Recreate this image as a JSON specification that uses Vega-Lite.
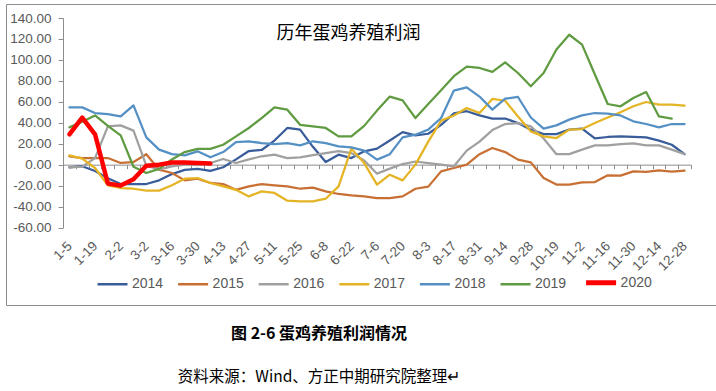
{
"$schema": "https://vega.github.io/schema/vega-lite/v6.json",
"background": "white",
"padding": {"left": 0, "top": 3, "right": 0, "bottom": 0},
"config": {"view": {"stroke": "#8c8c8c", "strokeWidth": 1}, "font": "Liberation Sans"},
"title": {"text": "图 2-6  蛋鸡养殖利润情况", "subtitle": "资料来源：Wind、方正中期研究院整理↵", "orient": "bottom", "anchor": "middle", "dx": -41, "offset": 20, "subtitlePadding": 28, "font": "Noto Sans CJK SC", "fontSize": 16, "fontWeight": "bold", "color": "#000000", "subtitleFont": "Noto Sans CJK SC", "subtitleFontSize": 15.5, "subtitleColor": "#000000", "subtitleFontWeight": "normal"},
"vconcat": [{
"width": 713, "height": 301,
"title": {"text": "历年蛋鸡养殖利润", "frame": "group", "anchor": "middle", "dx": -14, "offset": -39, "font": "Noto Sans CJK SC", "fontSize": 18, "fontWeight": "normal", "color": "#000000"},
"data": {"values": [
{"d":"1-5","s":"2014","v":-2.7},{"d":"1-12","s":"2014","v":-1.5},{"d":"1-19","s":"2014","v":-6},{"d":"1-26","s":"2014","v":-13},{"d":"2-2","s":"2014","v":-18.5},{"d":"2-16","s":"2014","v":-18.5},{"d":"3-2","s":"2014","v":-18.5},{"d":"3-9","s":"2014","v":-15},{"d":"3-16","s":"2014","v":-9},{"d":"3-23","s":"2014","v":-5},{"d":"3-30","s":"2014","v":-4},{"d":"4-6","s":"2014","v":-6},{"d":"4-13","s":"2014","v":-2.5},{"d":"4-20","s":"2014","v":5},{"d":"4-27","s":"2014","v":13},{"d":"5-4","s":"2014","v":14},{"d":"5-11","s":"2014","v":23},{"d":"5-18","s":"2014","v":35},{"d":"5-25","s":"2014","v":33.4},{"d":"6-1","s":"2014","v":17},{"d":"6-8","s":"2014","v":2.5},{"d":"6-15","s":"2014","v":9.5},{"d":"6-22","s":"2014","v":6.3},{"d":"6-29","s":"2014","v":12.7},{"d":"7-6","s":"2014","v":15.3},{"d":"7-13","s":"2014","v":23},{"d":"7-20","s":"2014","v":31},{"d":"7-27","s":"2014","v":28},{"d":"8-3","s":"2014","v":29.5},{"d":"8-10","s":"2014","v":38},{"d":"8-17","s":"2014","v":49},{"d":"8-24","s":"2014","v":51},{"d":"8-31","s":"2014","v":47},{"d":"9-7","s":"2014","v":44},{"d":"9-14","s":"2014","v":44},{"d":"9-21","s":"2014","v":39.7},{"d":"9-28","s":"2014","v":33.4},{"d":"10-12","s":"2014","v":29.2},{"d":"10-19","s":"2014","v":29.2},{"d":"10-26","s":"2014","v":33.4},{"d":"11-2","s":"2014","v":34.4},{"d":"11-9","s":"2014","v":25},{"d":"11-16","s":"2014","v":26.4},{"d":"11-23","s":"2014","v":27},{"d":"11-30","s":"2014","v":26.4},{"d":"12-7","s":"2014","v":26},{"d":"12-14","s":"2014","v":23},{"d":"12-21","s":"2014","v":19},{"d":"12-28","s":"2014","v":10},
{"d":"1-5","s":"2015","v":8},{"d":"1-12","s":"2015","v":6.3},{"d":"1-19","s":"2015","v":6.3},{"d":"1-26","s":"2015","v":6.3},{"d":"2-2","s":"2015","v":1.6},{"d":"2-16","s":"2015","v":2.5},{"d":"3-2","s":"2015","v":10},{"d":"3-9","s":"2015","v":-4.8},{"d":"3-16","s":"2015","v":-8},{"d":"3-23","s":"2015","v":-15},{"d":"3-30","s":"2015","v":-13.4},{"d":"4-6","s":"2015","v":-17.5},{"d":"4-13","s":"2015","v":-18.5},{"d":"4-20","s":"2015","v":-24},{"d":"4-27","s":"2015","v":-20.7},{"d":"5-4","s":"2015","v":-18.5},{"d":"5-11","s":"2015","v":-19.7},{"d":"5-18","s":"2015","v":-20.7},{"d":"5-25","s":"2015","v":-23},{"d":"6-1","s":"2015","v":-22},{"d":"6-8","s":"2015","v":-25.5},{"d":"6-15","s":"2015","v":-28},{"d":"6-22","s":"2015","v":-29.3},{"d":"6-29","s":"2015","v":-30.3},{"d":"7-6","s":"2015","v":-31.9},{"d":"7-13","s":"2015","v":-31.9},{"d":"7-20","s":"2015","v":-30.3},{"d":"7-27","s":"2015","v":-23},{"d":"8-3","s":"2015","v":-21},{"d":"8-10","s":"2015","v":-6.4},{"d":"8-17","s":"2015","v":-3.2},{"d":"8-24","s":"2015","v":0},{"d":"8-31","s":"2015","v":10},{"d":"9-7","s":"2015","v":15.9},{"d":"9-14","s":"2015","v":12},{"d":"9-21","s":"2015","v":4.8},{"d":"9-28","s":"2015","v":2.2},{"d":"10-12","s":"2015","v":-12.8},{"d":"10-19","s":"2015","v":-19},{"d":"10-26","s":"2015","v":-19},{"d":"11-2","s":"2015","v":-17},{"d":"11-9","s":"2015","v":-16.6},{"d":"11-16","s":"2015","v":-10.2},{"d":"11-23","s":"2015","v":-10.5},{"d":"11-30","s":"2015","v":-6.4},{"d":"12-7","s":"2015","v":-7},{"d":"12-14","s":"2015","v":-5.4},{"d":"12-21","s":"2015","v":-6.7},{"d":"12-28","s":"2015","v":-5.7},
{"d":"1-5","s":"2016","v":-2.6},{"d":"1-12","s":"2016","v":-2},{"d":"1-19","s":"2016","v":6.3},{"d":"1-26","s":"2016","v":36.6},{"d":"2-2","s":"2016","v":37.5},{"d":"2-16","s":"2016","v":32.5},{"d":"3-2","s":"2016","v":-1},{"d":"3-9","s":"2016","v":-4.5},{"d":"3-16","s":"2016","v":-1.6},{"d":"3-23","s":"2016","v":0},{"d":"3-30","s":"2016","v":0},{"d":"4-6","s":"2016","v":1.6},{"d":"4-13","s":"2016","v":5.4},{"d":"4-20","s":"2016","v":1.6},{"d":"4-27","s":"2016","v":5},{"d":"5-4","s":"2016","v":8},{"d":"5-11","s":"2016","v":9.5},{"d":"5-18","s":"2016","v":6.3},{"d":"5-25","s":"2016","v":7},{"d":"6-1","s":"2016","v":9},{"d":"6-8","s":"2016","v":11},{"d":"6-15","s":"2016","v":13},{"d":"6-22","s":"2016","v":11},{"d":"6-29","s":"2016","v":4},{"d":"7-6","s":"2016","v":-8.6},{"d":"7-13","s":"2016","v":-3.8},{"d":"7-20","s":"2016","v":0.6},{"d":"7-27","s":"2016","v":3},{"d":"8-3","s":"2016","v":1.5},{"d":"8-10","s":"2016","v":0},{"d":"8-17","s":"2016","v":-1.6},{"d":"8-24","s":"2016","v":13.4},{"d":"8-31","s":"2016","v":22},{"d":"9-7","s":"2016","v":33},{"d":"9-14","s":"2016","v":38.8},{"d":"9-21","s":"2016","v":39.7},{"d":"9-28","s":"2016","v":36.6},{"d":"10-12","s":"2016","v":25},{"d":"10-19","s":"2016","v":10},{"d":"10-26","s":"2016","v":10},{"d":"11-2","s":"2016","v":14.3},{"d":"11-9","s":"2016","v":18.4},{"d":"11-16","s":"2016","v":18.4},{"d":"11-23","s":"2016","v":19.7},{"d":"11-30","s":"2016","v":20.3},{"d":"12-7","s":"2016","v":18.4},{"d":"12-14","s":"2016","v":18.4},{"d":"12-21","s":"2016","v":14.3},{"d":"12-28","s":"2016","v":10},
{"d":"1-5","s":"2017","v":8.9},{"d":"1-12","s":"2017","v":5.7},{"d":"1-19","s":"2017","v":-3.2},{"d":"1-26","s":"2017","v":-19.7},{"d":"2-2","s":"2017","v":-22.3},{"d":"2-16","s":"2017","v":-23},{"d":"3-2","s":"2017","v":-24.8},{"d":"3-9","s":"2017","v":-24.8},{"d":"3-16","s":"2017","v":-19.7},{"d":"3-23","s":"2017","v":-13.4},{"d":"3-30","s":"2017","v":-12.8},{"d":"4-6","s":"2017","v":-17.5},{"d":"4-13","s":"2017","v":-20.7},{"d":"4-20","s":"2017","v":-24},{"d":"4-27","s":"2017","v":-30.3},{"d":"5-4","s":"2017","v":-25.5},{"d":"5-11","s":"2017","v":-27},{"d":"5-18","s":"2017","v":-34.4},{"d":"5-25","s":"2017","v":-35},{"d":"6-1","s":"2017","v":-35},{"d":"6-8","s":"2017","v":-32.5},{"d":"6-15","s":"2017","v":-20.7},{"d":"6-22","s":"2017","v":15.3},{"d":"6-29","s":"2017","v":1.5},{"d":"7-6","s":"2017","v":-19},{"d":"7-13","s":"2017","v":-9.6},{"d":"7-20","s":"2017","v":-15},{"d":"7-27","s":"2017","v":0},{"d":"8-3","s":"2017","v":22},{"d":"8-10","s":"2017","v":42},{"d":"8-17","s":"2017","v":47},{"d":"8-24","s":"2017","v":54},{"d":"8-31","s":"2017","v":49.3},{"d":"9-7","s":"2017","v":62.7},{"d":"9-14","s":"2017","v":61},{"d":"9-21","s":"2017","v":46},{"d":"9-28","s":"2017","v":31.8},{"d":"10-12","s":"2017","v":27},{"d":"10-19","s":"2017","v":25.4},{"d":"10-26","s":"2017","v":33.4},{"d":"11-2","s":"2017","v":34},{"d":"11-9","s":"2017","v":39.7},{"d":"11-16","s":"2017","v":45},{"d":"11-23","s":"2017","v":50},{"d":"11-30","s":"2017","v":55.7},{"d":"12-7","s":"2017","v":59.8},{"d":"12-14","s":"2017","v":57.3},{"d":"12-21","s":"2017","v":57.3},{"d":"12-28","s":"2017","v":56.4},
{"d":"1-5","s":"2018","v":54.7},{"d":"1-12","s":"2018","v":54.7},{"d":"1-19","s":"2018","v":49.3},{"d":"1-26","s":"2018","v":48.3},{"d":"2-2","s":"2018","v":46},{"d":"2-16","s":"2018","v":56.6},{"d":"3-2","s":"2018","v":26},{"d":"3-9","s":"2018","v":14.3},{"d":"3-16","s":"2018","v":10},{"d":"3-23","s":"2018","v":8.9},{"d":"3-30","s":"2018","v":12.7},{"d":"4-6","s":"2018","v":7},{"d":"4-13","s":"2018","v":12},{"d":"4-20","s":"2018","v":21.6},{"d":"4-27","s":"2018","v":22.3},{"d":"5-4","s":"2018","v":20.6},{"d":"5-11","s":"2018","v":19.7},{"d":"5-18","s":"2018","v":20.6},{"d":"5-25","s":"2018","v":18.4},{"d":"6-1","s":"2018","v":22.3},{"d":"6-8","s":"2018","v":20.6},{"d":"6-15","s":"2018","v":17.5},{"d":"6-22","s":"2018","v":16.5},{"d":"6-29","s":"2018","v":13.4},{"d":"7-6","s":"2018","v":4.8},{"d":"7-13","s":"2018","v":10},{"d":"7-20","s":"2018","v":26},{"d":"7-27","s":"2018","v":28.6},{"d":"8-3","s":"2018","v":33.4},{"d":"8-10","s":"2018","v":44.5},{"d":"8-17","s":"2018","v":70.7},{"d":"8-24","s":"2018","v":73.8},{"d":"8-31","s":"2018","v":65},{"d":"9-7","s":"2018","v":52.5},{"d":"9-14","s":"2018","v":63},{"d":"9-21","s":"2018","v":64.6},{"d":"9-28","s":"2018","v":45},{"d":"10-12","s":"2018","v":34.4},{"d":"10-19","s":"2018","v":37.5},{"d":"10-26","s":"2018","v":43},{"d":"11-2","s":"2018","v":47},{"d":"11-9","s":"2018","v":49.3},{"d":"11-16","s":"2018","v":48.7},{"d":"11-23","s":"2018","v":47},{"d":"11-30","s":"2018","v":41.4},{"d":"12-7","s":"2018","v":38.8},{"d":"12-14","s":"2018","v":35.6},{"d":"12-21","s":"2018","v":38.8},{"d":"12-28","s":"2018","v":38.8},
{"d":"1-5","s":"2019","v":35.6},{"d":"1-12","s":"2019","v":41},{"d":"1-19","s":"2019","v":47},{"d":"1-26","s":"2019","v":37},{"d":"2-2","s":"2019","v":28},{"d":"2-16","s":"2019","v":-2},{"d":"3-2","s":"2019","v":-8},{"d":"3-9","s":"2019","v":-4},{"d":"3-16","s":"2019","v":5},{"d":"3-23","s":"2019","v":12},{"d":"3-30","s":"2019","v":15},{"d":"4-6","s":"2019","v":15},{"d":"4-13","s":"2019","v":19},{"d":"4-20","s":"2019","v":27},{"d":"4-27","s":"2019","v":35},{"d":"5-4","s":"2019","v":44.5},{"d":"5-11","s":"2019","v":54.7},{"d":"5-18","s":"2019","v":52.5},{"d":"5-25","s":"2019","v":38},{"d":"6-1","s":"2019","v":36.6},{"d":"6-8","s":"2019","v":35},{"d":"6-15","s":"2019","v":27},{"d":"6-22","s":"2019","v":27},{"d":"6-29","s":"2019","v":37},{"d":"7-6","s":"2019","v":51.6},{"d":"7-13","s":"2019","v":65},{"d":"7-20","s":"2019","v":61.4},{"d":"7-27","s":"2019","v":44.5},{"d":"8-3","s":"2019","v":58},{"d":"8-10","s":"2019","v":71},{"d":"8-17","s":"2019","v":84.5},{"d":"8-24","s":"2019","v":93.5},{"d":"8-31","s":"2019","v":92.3},{"d":"9-7","s":"2019","v":88.5},{"d":"9-14","s":"2019","v":97.7},{"d":"9-21","s":"2019","v":87.5},{"d":"9-28","s":"2019","v":74.8},{"d":"10-12","s":"2019","v":87.5},{"d":"10-19","s":"2019","v":110},{"d":"10-26","s":"2019","v":124},{"d":"11-2","s":"2019","v":114.6},{"d":"11-9","s":"2019","v":86},{"d":"11-16","s":"2019","v":57.9},{"d":"11-23","s":"2019","v":55.7},{"d":"11-30","s":"2019","v":63.6},{"d":"12-7","s":"2019","v":69.3},{"d":"12-14","s":"2019","v":46},{"d":"12-21","s":"2019","v":44},
{"d":"1-5","s":"2020","v":29},{"d":"1-12","s":"2020","v":45},{"d":"1-19","s":"2020","v":29},{"d":"1-26","s":"2020","v":-18},{"d":"2-2","s":"2020","v":-20},{"d":"2-16","s":"2020","v":-14},{"d":"3-2","s":"2020","v":-1},{"d":"3-9","s":"2020","v":0},{"d":"3-16","s":"2020","v":2},{"d":"3-23","s":"2020","v":2},{"d":"3-30","s":"2020","v":1.5},{"d":"4-6","s":"2020","v":1}
]},
"mark": {"type": "line", "strokeJoin": "round", "strokeCap": "round"},
"encoding": {
"x": {"field": "d", "type": "ordinal",
 "scale": {"type": "band", "domain": ["1-5","1-12","1-19","1-26","2-2","2-16","3-2","3-9","3-16","3-23","3-30","4-6","4-13","4-20","4-27","5-4","5-11","5-18","5-25","6-1","6-8","6-15","6-22","6-29","7-6","7-13","7-20","7-27","8-3","8-10","8-17","8-24","8-31","9-7","9-14","9-21","9-28","10-12","10-19","10-26","11-2","11-9","11-16","11-23","11-30","12-7","12-14","12-21","12-28"], "range": [57, 685], "paddingInner": 0, "paddingOuter": 0},
 "axis": {"title": null, "orient": "bottom", "offset": -140.35, "grid": false, "domain": true, "domainColor": "#8c8c8c", "ticks": true, "tickColor": "#8c8c8c", "tickSize": 4, "tickBand": "extent", "labelAngle": -45, "labelAlign": "right", "labelBaseline": "middle", "labelPadding": 75, "labelOverlap": false, "labelFont": "Liberation Sans", "labelFontSize": 13.5, "labelColor": "#595959",
  "labelExpr": "indexof(['1-5','1-19','2-2','3-2','3-16','3-30','4-13','4-27','5-11','5-25','6-8','6-22','7-6','7-20','8-3','8-17','8-31','9-14','9-28','10-19','11-2','11-16','11-30','12-14','12-28'], datum.value) >= 0 ? datum.label : ''"}},
"y": {"field": "v", "type": "quantitative",
 "scale": {"domain": [-60, 140], "range": [223.5, 14], "nice": false, "zero": false},
 "axis": {"title": null, "orient": "left", "offset": -57, "grid": false, "domainColor": "#8c8c8c", "tickColor": "#8c8c8c", "tickSize": 5, "labelPadding": 7, "values": [-60, -40, -20, 0, 20, 40, 60, 80, 100, 120, 140], "labelFont": "Liberation Sans", "labelFontSize": 13.5, "labelColor": "#595959", "labelExpr": "replace(format(datum.value, '.2f'), '−', '-')"}},
"color": {"field": "s", "type": "nominal",
 "scale": {"domain": ["2014","2015","2016","2017","2018","2019","2020"], "range": ["#385D9A","#C86F33","#A0A0A0","#E5B425","#5590C5","#5F9B40","#FF0000"]},
 "legend": {"title": null, "orient": "none", "legendX": 90, "legendY": 262, "direction": "horizontal", "symbolType": "stroke", "symbolSize": 900, "symbolStrokeWidth": 2.5, "labelFont": "Liberation Sans", "labelFontSize": 14, "labelColor": "#595959", "labelOffset": 3, "columnPadding": 8.6, "padding": 0,
  "encode": {"symbols": {"update": {"size": {"value": 900}, "strokeWidth": {"signal": "(datum.value === '2020' ? 5 : 2.5)"}}}}}},
"strokeWidth": {"condition": {"test": "datum.s === '2020'", "value": 4.5}, "value": 2.25}
}
}]
}
